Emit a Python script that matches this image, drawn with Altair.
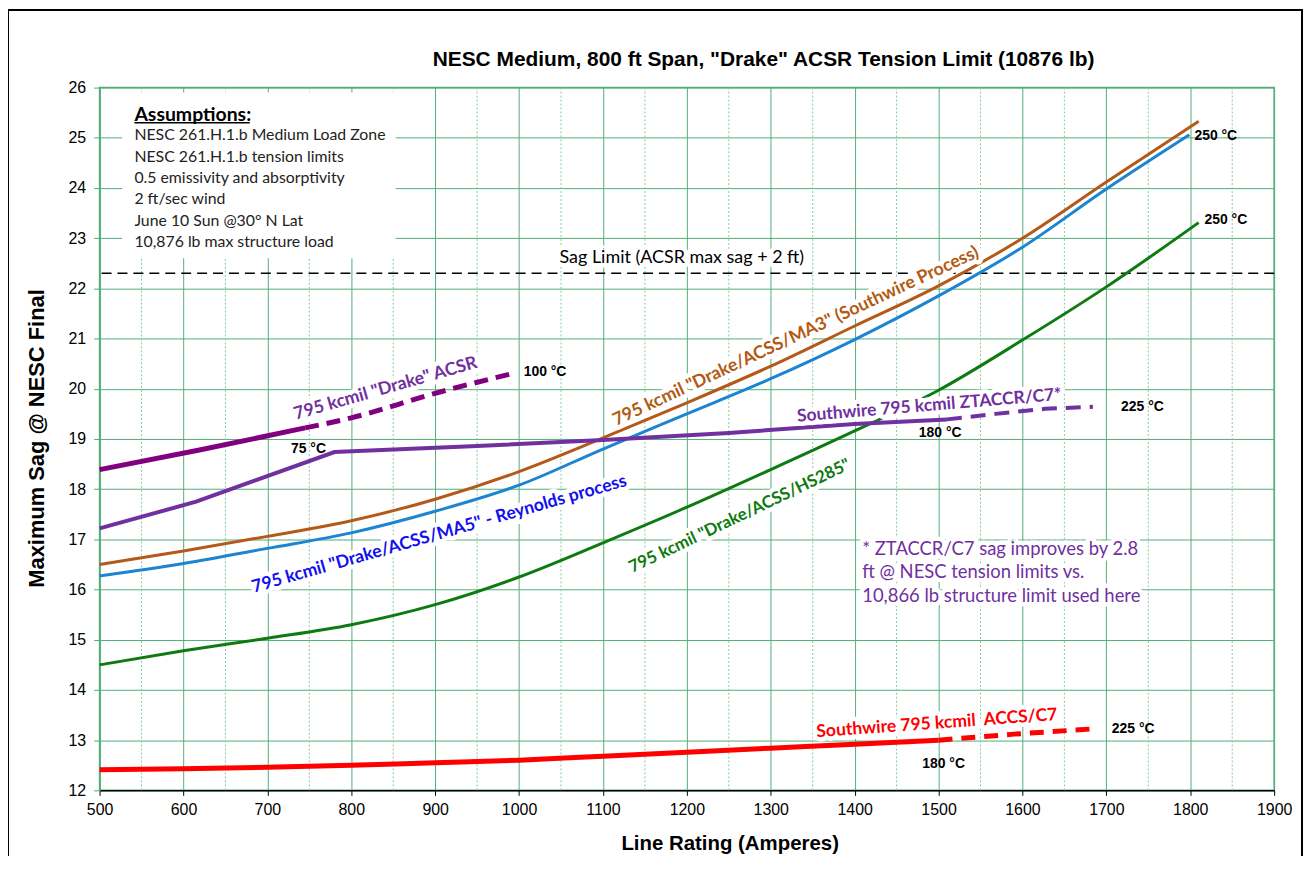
import altair as alt
import pandas as pd

# ---------------- data ----------------
acsr_solid_amps = [500, 619, 745]
acsr_solid_sag = [18.39, 18.78, 19.22]
acsr_dash_amps = [745, 800, 900, 996]
acsr_dash_sag = [19.22, 19.42, 19.91, 20.32]

zt_solid_amps = [500, 615, 780, 950, 1100, 1250, 1400, 1510]
zt_solid_sag = [17.22, 17.75, 18.74, 18.86, 18.98, 19.12, 19.30, 19.39]
zt_dash_amps = [1510, 1568, 1627, 1684]
zt_dash_sag = [19.39, 19.50, 19.60, 19.64]

ma3_amps = [500, 600, 700, 800, 900, 1000, 1100, 1200, 1300, 1400, 1500, 1600, 1700, 1810]
ma3_sag = [16.50, 16.77, 17.06, 17.37, 17.80, 18.35, 19.02, 19.72, 20.45, 21.25, 22.05, 23.00, 24.12, 25.33]

ma5_amps = [500, 600, 700, 800, 900, 1000, 1100, 1200, 1300, 1400, 1500, 1600, 1700, 1799]
ma5_sag = [16.27, 16.52, 16.82, 17.13, 17.56, 18.08, 18.80, 19.50, 20.20, 20.98, 21.85, 22.82, 23.98, 25.06]

hs_amps = [500, 600, 700, 800, 900, 1000, 1100, 1200, 1300, 1400, 1500, 1600, 1700, 1810]
hs_sag = [14.50, 14.78, 15.03, 15.30, 15.70, 16.25, 16.93, 17.64, 18.39, 19.16, 19.97, 20.97, 22.03, 23.31]

accs_solid_amps = [500, 600, 700, 800, 900, 1000, 1100, 1200, 1300, 1400, 1500]
accs_solid_sag = [12.41, 12.43, 12.46, 12.50, 12.55, 12.60, 12.68, 12.76, 12.84, 12.92, 13.00]
accs_dash_amps = [1500, 1590, 1680]
accs_dash_sag = [13.00, 13.12, 13.22]

sag_limit = [22.3]
minor_grid_amps = [550, 650, 750, 850, 950, 1050, 1150, 1250, 1350, 1450, 1550, 1650, 1750, 1850]
x_ticks = [500, 600, 700, 800, 900, 1000, 1100, 1200, 1300, 1400, 1500, 1600, 1700, 1800, 1900]
y_ticks = [12, 13, 14, 15, 16, 17, 18, 19, 20, 21, 22, 23, 24, 25, 26]

title_text = 'NESC Medium, 800 ft Span, "Drake" ACSR Tension Limit (10876 lb)'

assump_head = ["Assumptions:"]
assump_lines = ["NESC 261.H.1.b Medium Load Zone", "NESC 261.H.1.b tension limits",
                "0.5 emissivity and absorptivity", "2 ft/sec wind",
                "June 10 Sun @30\u00b0 N Lat", "10,876 lb max structure load"]
assump_line_sag = [25.05, 24.61, 24.19, 23.78, 23.34, 22.93]

foot_lines = ["* ZTACCR/C7 sag improves by 2.8", "ft @ NESC tension limits vs.",
              "10,866 lb structure limit used here"]
foot_sag = [16.80, 16.34, 15.87]

temp_text = ["100 \u00b0C", "75 \u00b0C", "180 \u00b0C", "225 \u00b0C", "180 \u00b0C", "225 \u00b0C"]
temp_amps = [1031, 749, 1502, 1743, 1506, 1732]
temp_sag = [20.33, 18.80, 19.12, 19.63, 12.52, 13.23]
temp250_text = ["250 \u00b0C", "250 \u00b0C"]
temp250_amps = [1805, 1817]
temp250_sag = [25.03, 23.36]

# ---------------- scales / axes ----------------
XS = alt.Scale(domain=[500, 1900], nice=False, zero=False)
YS = alt.Scale(domain=[12, 26], nice=False, zero=False)
GRID = "#52AD78"
XAX = alt.Axis(values=x_ticks, format="d", title="Line Rating (Amperes)", grid=True, gridColor=GRID,
               gridWidth=1, domainColor="black", domainWidth=1.5, tickColor="black", tickSize=5,
               labelFont="Liberation Sans", labelFontSize=16, labelColor="black", labelPadding=6,
               labelFlush=False,
               titleFont="Liberation Sans", titleFontSize=20.5, titleFontWeight="bold", titleColor="black",
               titleX=633, titleY=53, titleBaseline="middle", titleAlign="center")
YAX = alt.Axis(values=y_ticks, format="d", title="Maximum Sag @ NESC Final", grid=True, gridColor=GRID,
               gridWidth=1, domainColor=GRID, domainWidth=1.5, tickColor=GRID, tickSize=6,
               labelFont="Liberation Sans", labelFontSize=16, labelColor="black", labelPadding=8,
               labelFlush=False,
               titleFont="Liberation Sans", titleFontSize=22, titleFontWeight="bold", titleColor="black",
               titleX=-63, titleY=352, titleAngle=270, titleBaseline="middle", titleAlign="center")


def enc(chart):
    return chart.encode(x=alt.X("amps:Q", scale=XS, axis=XAX), y=alt.Y("sag:Q", scale=YS, axis=YAX))


def line(xs, ys, color, width, dash=None, interp="monotone"):
    kw = dict(color=color, strokeWidth=width, interpolate=interp, strokeCap="butt")
    if dash:
        kw["strokeDash"] = dash
    return enc(alt.Chart(pd.DataFrame({"amps": xs, "sag": ys})).mark_line(**kw))


def text(texts, xs, ys, color, size, font="Lato", weight="normal", align="left", angle=0, halo=False):
    df = pd.DataFrame({"amps": xs, "sag": ys, "text": texts})
    base = enc(alt.Chart(df)).encode(text="text:N")
    out = []
    if halo:
        out.append(base.mark_text(font=font, fontSize=size, fontWeight=weight, align=align,
                                  baseline="middle", angle=angle, fill="white", stroke="white",
                                  strokeWidth=9, strokeJoin="round"))
    out.append(base.mark_text(font=font, fontSize=size, fontWeight=weight, align=align,
                              baseline="middle", angle=angle, color=color))
    return out


minor = alt.Chart(pd.DataFrame({"amps": minor_grid_amps})).mark_rule(
    color="#86C9A2", strokeDash=[2, 2], strokeWidth=1).encode(x=alt.X("amps:Q", scale=XS, axis=XAX))

sag_rule = alt.Chart(pd.DataFrame({"sag": sag_limit})).mark_rule(
    color="black", strokeDash=[10, 6], strokeWidth=1.6).encode(y=alt.Y("sag:Q", scale=YS, axis=YAX))

box = alt.Chart(pd.DataFrame({"amps": [527], "amps2": [853], "sag": [22.6], "sag2": [25.9]})).mark_rect(
    color="white").encode(x=alt.X("amps:Q", scale=XS, axis=XAX), x2="amps2:Q",
                          y=alt.Y("sag:Q", scale=YS, axis=YAX), y2="sag2:Q")

underline = alt.Chart(pd.DataFrame({"amps": [541.5], "amps2": [679], "sag": [25.30]})).mark_rule(
    color="black", strokeWidth=1.5).encode(x=alt.X("amps:Q", scale=XS, axis=XAX), x2="amps2:Q",
                                           y=alt.Y("sag:Q", scale=YS, axis=YAX))

layers = [minor, sag_rule, box, underline]
layers += [
    line(acsr_solid_amps, acsr_solid_sag, "#800080", 5),
    line(acsr_dash_amps, acsr_dash_sag, "#800080", 5, dash=[14, 8]),
    line(ma3_amps, ma3_sag, "#B5591A", 3),
    line(ma5_amps, ma5_sag, "#1C84D0", 3),
    line(hs_amps, hs_sag, "#0E7A12", 3),
    line(zt_solid_amps, zt_solid_sag, "#7030A0", 4, interp="linear"),
    line(zt_dash_amps, zt_dash_sag, "#7030A0", 4, dash=[15, 9], interp="linear"),
    line(accs_solid_amps, accs_solid_sag, "#FF0000", 5),
    line(accs_dash_amps, accs_dash_sag, "#FF0000", 5, dash=[14, 9], interp="linear"),
]

# rotated series labels
layers += text(['795 kcmil "Drake" ACSR'], [841], [20.0], "#7030A0", 17.8, weight="bold",
               align="center", angle=344, halo=True)
layers += text(['795 kcmil "Drake/ACSS/MA3" (Southwire Process)'], [1330], [21.04], "#B35A12", 17.9,
               weight="bold", align="center", angle=335, halo=True)
layers += text(['795 kcmil "Drake/ACSS/MA5" - Reynolds process'], [905], [17.10], "#1010EE", 17.7,
               weight="bold", align="center", angle=344, halo=True)
layers += text(['795 kcmil "Drake/ACSS/HS285"'], [1263], [17.46], "#0D7A0D", 17, weight="bold",
               align="center", angle=334.5, halo=True)
layers += text(["Southwire 795 kcmil ZTACCR/C7*"], [1489], [19.66], "#7030A0", 17.5, weight="bold",
               align="center", angle=355.3, halo=True)
layers += text(["Southwire 795 kcmil\u00a0 ACCS/C7"], [1498], [13.33], "#FF0000", 17.6, weight="bold",
               align="center", angle=355.9, halo=True)

# annotations
layers += text(assump_head, [541.5], [25.46], "black", 19.5, weight="bold")
layers += text(assump_lines, [541.5] * len(assump_lines), assump_line_sag, "#222222", 15.9)
layers += text(["Sag Limit (ACSR max sag + 2 ft)"], [1194], [22.61], "black", 18, align="center", halo=True)
layers += text(foot_lines, [1409] * len(foot_lines), foot_sag, "#7030A0", 18.5, halo=True)
layers += text(temp_text, temp_amps, temp_sag, "black", 14, font="Liberation Sans", weight="bold",
               align="center")
layers += text(temp250_text, temp250_amps, temp250_sag, "black", 14, font="Liberation Sans",
               weight="bold", align="left")
layers += text([title_text], [1291.4], [26.555], "black", 21, font="Liberation Sans", weight="bold",
               align="center")

frame = alt.Chart(pd.DataFrame({"k": [0]})).mark_rect(filled=False, stroke="black", strokeWidth=2).encode(
    x=alt.value(-92), x2=alt.value(1208), y=alt.value(-78), y2=alt.value(820))
layers.append(frame)

chart = alt.layer(*layers).properties(
    width=1180, height=706,
    autosize=alt.AutoSizeParams(type="none"),
    padding={"left": 92, "top": 78, "right": 30, "bottom": 64},
    background="white",
).configure_view(stroke=GRID, strokeWidth=1.5)

chart.save("out.html", embed_options={"renderer": "svg", "actions": False})
